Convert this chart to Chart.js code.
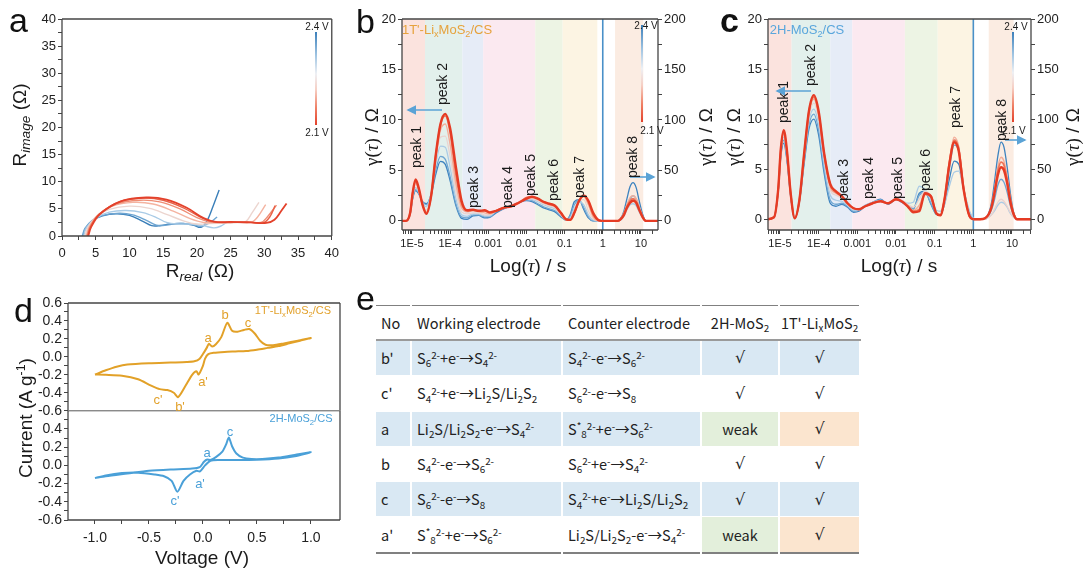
<!DOCTYPE html>
<html><head><meta charset="utf-8">
<script src="https://cdn.jsdelivr.net/npm/chart.js@4.4.0/dist/chart.umd.min.js"></script>
<style>
body{margin:0;width:1083px;height:569px;background:#fff;position:relative;overflow:hidden;font-family:Arial,"Liberation Sans",sans-serif;}
canvas{position:absolute;}
.t{position:absolute;white-space:nowrap;color:#1a1a1a;line-height:1;}
.lt{position:absolute;font-size:34px;line-height:34px;color:#111;font-family:Arial,"Liberation Sans",sans-serif;}
.cb{position:absolute;width:2px;background:linear-gradient(to bottom,#3b7fba 0%,#9fc4e2 25%,#eef0f4 45%,#f6cfc4 62%,#ef7e63 82%,#e3412b 100%);}
#tbl{position:absolute;left:376px;top:305px;width:484px;border-collapse:collapse;font-family:"Noto Sans CJK SC","Noto Sans",sans-serif;font-size:14.5px;color:#222;table-layout:fixed;border-top:1.5px solid #808080;border-bottom:2px solid #808080;}
#tbl td{padding:0 0 0 5px;height:34.3px;border-right:2px solid #fff;border-bottom:1px solid #fff;white-space:nowrap;line-height:1.1;}
#tbl tr.hd td{height:33px;border-bottom:2.5px solid #9a9a9a;}
#tbl td.c{text-align:center;padding:0;}
#tbl td.ck{font-family:"DejaVu Sans",Arial,sans-serif;font-size:16px;}
#tbl tr.bl td{background:#d9e8f3;}
#tbl td.gw{background:#e3efdb !important;}
#tbl td.pw{background:#fbe5cf !important;}
#tbl sub,#tbl sup{font-size:0.68em;line-height:0;position:relative;vertical-align:baseline;}
#tbl sub{top:0.32em;}
#tbl sup{top:-0.5em;}
.ax sub{font-size:0.72em;font-style:italic;vertical-align:baseline;position:relative;top:0.3em;}
.ser{font-family:"Liberation Serif","DejaVu Serif",serif;}
</style></head>
<body>
<canvas id="cA" width="345" height="290" style="left:0;top:0"></canvas>
<canvas id="cB" width="360" height="290" style="left:360px;top:0"></canvas>
<canvas id="cC" width="363" height="290" style="left:720px;top:0"></canvas>
<canvas id="cD1" width="350" height="135" style="left:0;top:290px"></canvas>
<canvas id="cD2" width="350" height="169" style="left:0;top:400px"></canvas>
<table id="tbl"></table>
<svg id="arr" width="1083" height="569" style="position:absolute;left:0;top:0;pointer-events:none">
<defs><marker id="ah" markerWidth="6" markerHeight="6" refX="5" refY="3" orient="auto"><path d="M0,0 L6,3 L0,6 z" fill="#5ba3d6"/></marker></defs>
<line x1="442" y1="110" x2="408" y2="110" stroke="#5ba3d6" stroke-width="1.6" marker-end="url(#ah)"/>
<line x1="630" y1="177" x2="654" y2="177" stroke="#5ba3d6" stroke-width="1.6" marker-end="url(#ah)"/>
<line x1="811" y1="91" x2="777" y2="91" stroke="#5ba3d6" stroke-width="1.6" marker-end="url(#ah)"/>
<line x1="1005" y1="140" x2="1025" y2="140" stroke="#5ba3d6" stroke-width="1.6" marker-end="url(#ah)"/>
</svg>
<script>
// ---------------- DATA ----------------
// Panel a: Nyquist plots, 2.4 V (blue) -> 2.1 V (red)
const aReal = [
  [3.1,3.5,4.5,6,8,10,12,13.3,14.5,16,18,19.5,20.6,21.5,22.4,23.3],
  [3.0,3.4,4.5,6,8.5,10.5,12.5,14,15.5,17,19,20.5,21.5,22.3,23],
  [3.2,3.6,5,7,9.5,12,14,15.5,17,19,21,22.5,23.5,24.5],
  [3.4,3.8,5,7,10,13,15.5,18,20,22,24,26,27.2,28.2,29.2],
  [3.6,4,5.2,7.5,10.5,13.5,16.5,19,21,23,25.5,28,29,30.2],
  [3.7,4.1,5.4,8,11.5,14.5,17.5,20,22,24,26.5,29.5,30.5,31.8],
  [3.8,4.2,5.5,8.5,12,15,18,20.5,22.5,25,27.5,29.8,30.8,31.6],
  [3.9,4.3,5.6,8.7,12.5,15.5,18.5,21,22.8,25,28,30.3,31.5,32.5,33.3]
];
const aImag = [
  [0,1.4,2.8,3.7,4.1,3.8,2.7,1.9,1.9,2.2,2.3,2.0,1.6,2.8,5.5,8.5],
  [0,1.4,2.9,3.8,4.2,3.9,2.9,2.0,2.0,2.3,2.2,1.8,2.2,2.8,3.5],
  [0,1.5,3.3,4.4,4.7,4.3,3.4,2.5,2.2,2.2,1.9,1.5,1.8,2.6],
  [0,1.5,3.5,4.9,5.5,5.1,4.0,2.8,2.2,2.3,2.4,2.5,2.6,4.3,6.2],
  [0,1.6,3.7,5.5,6.2,5.9,4.6,3.2,2.5,2.5,2.6,2.5,3.5,5.8],
  [0,1.6,3.9,5.9,6.6,6.3,5.0,3.4,2.6,2.5,2.6,2.5,3.6,5.7],
  [0,1.6,4.0,6.3,7.0,6.6,5.2,3.5,2.6,2.5,2.6,2.4,3.5,5.6],
  [0,1.6,4.0,6.4,7.1,6.7,5.2,3.3,2.6,2.6,2.5,2.4,3.0,4.6,6.0]
];
const aTicks = [0,5,10,15,20,25,30,35,40];

// Panels b, c: DRT curves gamma(tau)
const tauLeft = [4.5e-6,7e-6,9e-6,1.05e-5,1.25e-5,1.5e-5,1.9e-5,2.4e-5,3.2e-5,4.2e-5,5.6e-5,7.5e-5,1e-4,1.4e-4,2e-4,2.8e-4,4e-4,5.6e-4,8e-4,1.1e-3,1.6e-3,2.5e-3,4e-3,6.3e-3,1e-2,1.4e-2,2e-2,2.8e-2,4e-2,5.6e-2,8e-2,0.11,0.14,0.18,0.24,0.32,0.42,0.56,0.8,1.0];
const tauRight = [1,1.5,2,2.5,3,3.6,4.3,5.2,6.2,7.5,9,11,13.5,17,32];
const bLeft = [
  [0,0,0.7,2.2,3.0,2.7,1.9,1.7,2.6,4.6,5.9,5.6,4.0,1.6,0.25,0.15,0.5,0.55,0.3,0.35,0.8,1.2,1.5,1.8,2.0,1.9,1.6,1.3,1.1,0.9,0.4,0.05,0.6,1.9,2.1,1.1,0.3,0,0,0],
  [0,0,0.7,2.3,3.1,2.8,1.9,1.6,2.7,5.0,6.4,6.1,4.4,1.8,0.4,0.3,0.6,0.6,0.4,0.4,0.9,1.2,1.5,1.8,2.1,2.0,1.7,1.4,1.2,1.0,0.5,0.1,0.5,1.6,2.0,1.3,0.4,0,0,0],
  [0,0,0.7,2.4,3.3,2.9,1.8,1.4,2.8,5.6,7.4,7.3,5.3,2.3,0.6,0.45,0.7,0.7,0.5,0.5,1.0,1.3,1.5,1.8,2.1,2.1,1.9,1.6,1.4,1.2,0.6,0.1,0.3,1.2,1.9,1.6,0.6,0.1,0,0],
  [0,0,0.7,2.6,3.6,3.0,1.6,1.1,2.7,6.0,8.3,8.4,6.4,3.0,0.9,0.7,0.8,0.8,0.6,0.6,1.0,1.3,1.5,1.9,2.2,2.2,2.0,1.7,1.5,1.3,0.6,0.1,0.2,1.0,2.0,2.1,1.0,0.2,0,0],
  [0,0,0.8,2.7,3.8,3.1,1.6,0.9,2.6,6.2,9.0,9.6,7.6,3.8,1.3,0.9,1.0,0.9,0.8,0.7,1.0,1.3,1.4,1.8,2.2,2.3,2.1,1.8,1.6,1.4,0.7,0.1,0.1,0.8,2.0,2.4,1.6,0.4,0,0],
  [0,0,0.8,2.8,4.0,3.2,1.6,0.8,2.5,6.4,9.5,10.4,8.8,4.8,1.7,1.0,1.1,1.0,1.0,0.8,1.0,1.3,1.5,1.8,2.3,2.4,2.2,1.9,1.7,1.5,0.8,0.15,0.1,0.8,2.0,2.5,1.9,0.6,0.05,0],
  [0,0,0.8,2.8,4.1,3.3,1.6,0.7,2.5,6.5,9.6,10.6,9.2,5.5,2.0,1.05,1.1,1.0,1.05,0.85,1.0,1.3,1.45,1.8,2.2,2.4,2.2,1.9,1.7,1.5,0.8,0.15,0.1,0.8,2.0,2.5,2.0,0.8,0.05,0]
];
const bRight = [
  [0,0,0,0,3,10,22,34,38,33,20,7,0,0,0],
  [0,0,0,0,2,7,15,22,25,22,14,5,0,0,0],
  [0,0,0,0,1,5,11,16,17,15,9,3,0,0,0],
  [0,0,0,0,2,6,14,20,22,19,12,4,0,0,0],
  [0,0,0,0,2,8,16,23,25,22,14,5,0,0,0],
  [0,0,0,0,2,7,14,20,22,19,12,4,0,0,0],
  [0,0,0,0,2,6,13,18,20,18,11,4,0,0,0]
];
const cLeft = [
  [0,0.2,2.8,6.2,7.6,6.0,2.2,0.1,1.8,5.5,9.0,10.0,8.4,4.5,1.6,1.3,1.5,1.2,0.7,0.8,1.3,1.7,2.0,1.5,2.0,1.7,1.3,1.0,2.6,2.8,1.5,0.5,0.4,1.5,4.0,5.8,5.5,3.0,0.6,0],
  [0,0.2,2.8,6.4,7.9,6.2,2.3,0.1,1.9,5.8,9.4,10.5,8.9,4.9,1.9,1.5,1.6,1.3,0.8,0.9,1.4,1.7,1.9,1.5,2.0,1.8,1.4,1.1,2.4,2.7,1.6,0.5,0.4,1.8,5.0,7.4,6.8,3.2,0.5,0],
  [0,0.2,2.9,6.6,8.2,6.4,2.4,0.1,1.9,6.0,9.8,11.0,9.5,5.4,2.4,1.9,1.8,1.4,0.9,0.9,1.4,1.7,1.9,1.6,2.1,1.9,1.6,1.7,3.3,3.0,1.9,0.9,0.8,1.5,3.3,4.7,4.8,3.0,0.8,0.1],
  [0,0.2,2.9,6.7,8.5,6.6,2.4,0.1,2.0,6.2,10.2,11.6,10.0,6.0,2.9,2.4,2.1,1.5,1.0,1.0,1.3,1.6,1.8,1.6,2.0,1.9,1.5,1.2,2.0,2.8,2.2,0.7,0.5,2.0,5.6,8.0,7.3,3.3,0.4,0],
  [0,0.2,3.0,6.8,8.7,6.8,2.5,0.1,2.0,6.3,10.5,12.0,10.4,6.3,3.2,2.6,2.2,1.6,1.1,1.0,1.3,1.6,1.8,1.6,2.0,1.8,1.4,0.9,1.4,2.6,2.2,0.6,0.4,2.1,5.8,8.2,7.2,3.2,0.3,0],
  [0,0.2,3.0,6.9,8.8,6.9,2.5,0.1,2.0,6.4,10.7,12.2,10.6,6.4,3.4,2.7,2.3,1.6,1.1,1.0,1.3,1.6,1.8,1.6,2.0,1.8,1.3,0.8,1.0,2.5,2.3,0.6,0.4,2.0,5.6,7.9,7.0,3.1,0.3,0],
  [0,0.2,3.0,7.0,8.9,7.0,2.5,0.1,2.0,6.5,10.8,12.4,10.8,6.5,3.5,2.8,2.3,1.6,1.1,1.0,1.3,1.6,1.8,1.6,2.0,1.8,1.3,0.7,0.8,2.6,2.3,0.6,0.4,2.0,5.5,7.7,6.8,3.0,0.3,0]
];
const cRight = [
  [0,0,1,6,18,40,63,77,72,52,27,7,0,0,0],
  [0,0,1,4,10,21,34,40,37,27,14,4,0,0,0],
  [0,0,0,2,5,9,14,17,16,12,6,2,0,0,0],
  [0,0,0,2,5,11,17,20,18,13,7,2,0,0,0],
  [0,0,1,5,14,32,52,62,58,42,22,6,0,0,0],
  [0,0,1,5,13,30,48,57,54,39,20,6,0,0,0],
  [0,0,1,5,13,28,44,52,49,36,18,5,0,0,0]
];
const tauTickValues = [1e-5,1e-4,1e-3,1e-2,0.1,1,10];
const tauTickLabels = ['1E-5','1E-4','0.001','0.01','0.1','1','10'];
const gammaTicks = [0,5,10,15,20];
const gammaRightTicks = [0,50,100,150,200];
const peakNames = ['peak 1','peak 2','peak 3','peak 4','peak 5','peak 6','peak 7','peak 8'];
// relaxation-time bands [start, end]
const bandsB = [[4e-6,2.2e-5],[2.2e-5,2.1e-4],[2.1e-4,7.4e-4],[7.4e-4,1.7e-2],[1.7e-2,8.9e-2],[8.9e-2,0.72],[2.1,11.5]];
const bandsC = [[4e-6,2.0e-5],[2.0e-5,2.0e-4],[2.0e-4,7.4e-4],[7.4e-4,1.7e-2],[1.7e-2,0.12],[0.12,1.0],[2.5,11]];

// Panel d: CV loops
const cvTopV = [-1.0,-0.9,-0.8,-0.7,-0.5,-0.3,-0.15,-0.08,-0.03,0.01,0.035,0.056,0.085,0.12,0.17,0.226,0.27,0.32,0.38,0.43,0.48,0.53,0.58,0.65,0.75,0.88,1.0,
                0.9,0.8,0.7,0.6,0.5,0.4,0.3,0.2,0.1,0.05,0.02,0.0,-0.04,-0.06,-0.1,-0.16,-0.23,-0.27,-0.33,-0.4,-0.48,-0.6,-0.75,-0.9,-1.0];
const cvTopI = [-0.197,-0.15,-0.11,-0.085,-0.07,-0.063,-0.058,-0.05,-0.02,0.05,0.1,0.145,0.115,0.14,0.22,0.38,0.29,0.28,0.30,0.31,0.26,0.18,0.135,0.13,0.15,0.18,0.21,
                0.18,0.15,0.12,0.1,0.08,0.065,0.06,0.055,0.045,0.03,-0.02,-0.1,-0.197,-0.16,-0.2,-0.32,-0.45,-0.40,-0.37,-0.36,-0.32,-0.25,-0.21,-0.2,-0.197];
const cvBotV = [-1.0,-0.9,-0.7,-0.5,-0.3,-0.1,-0.03,0.01,0.04,0.07,0.12,0.18,0.215,0.24,0.27,0.31,0.37,0.45,0.55,0.7,0.85,1.0,
                0.85,0.7,0.5,0.3,0.15,0.07,0.02,-0.028,-0.06,-0.12,-0.18,-0.237,-0.29,-0.36,-0.45,-0.6,-0.75,-0.9,-1.0];
const cvBotI = [-0.14,-0.12,-0.09,-0.06,-0.045,-0.035,-0.02,0.04,0.064,0.06,0.09,0.15,0.23,0.305,0.21,0.13,0.085,0.07,0.07,0.085,0.115,0.145,
                0.1,0.075,0.062,0.058,0.058,0.05,0.0,-0.067,-0.06,-0.1,-0.17,-0.29,-0.17,-0.12,-0.1,-0.08,-0.085,-0.11,-0.14];
const cvTopTicks = [0.6,0.4,0.2,0,-0.2,-0.4,-0.6];
const cvBotTicks = [0.4,0.2,0,-0.2,-0.4,-0.6];
const voltTicks = [-1.0,-0.5,0,0.5,1.0];

// Panel e: table
const tblHeader = ['No','Working electrode','Counter electrode','2H-MoS<sub>2</sub>',"1T'-Li<sub>x</sub>MoS<sub>2</sub>"];
const tblNo = ["b'","c'",'a','b','c',"a'"];
const tblWorking = [
  'S<sub>6</sub><sup>2-</sup>+e<sup>-</sup>→S<sub>4</sub><sup>2-</sup>',
  'S<sub>4</sub><sup>2-</sup>+e<sup>-</sup>→Li<sub>2</sub>S/Li<sub>2</sub>S<sub>2</sub>',
  'Li<sub>2</sub>S/Li<sub>2</sub>S<sub>2</sub>-e<sup>-</sup>→S<sub>4</sub><sup>2-</sup>',
  'S<sub>4</sub><sup>2-</sup>-e<sup>-</sup>→S<sub>6</sub><sup>2-</sup>',
  'S<sub>6</sub><sup>2-</sup>-e<sup>-</sup>→S<sub>8</sub>',
  'S<sup>*</sup><sub>8</sub><sup>2-</sup>+e<sup>-</sup>→S<sub>6</sub><sup>2-</sup>'
];
const tblCounter = [
  'S<sub>4</sub><sup>2-</sup>-e<sup>-</sup>→S<sub>6</sub><sup>2-</sup>',
  'S<sub>6</sub><sup>2-</sup>-e<sup>-</sup>→S<sub>8</sub>',
  'S<sup>*</sup><sub>8</sub><sup>2-</sup>+e<sup>-</sup>→S<sub>6</sub><sup>2-</sup>',
  'S<sub>6</sub><sup>2-</sup>+e<sup>-</sup>→S<sub>4</sub><sup>2-</sup>',
  'S<sub>4</sub><sup>2-</sup>+e<sup>-</sup>→Li<sub>2</sub>S/Li<sub>2</sub>S<sub>2</sub>',
  'Li<sub>2</sub>S/Li<sub>2</sub>S<sub>2</sub>-e<sup>-</sup>→S<sub>4</sub><sup>2-</sup>'
];
const tbl2H = ['√','√','weak','√','√','weak'];
const tbl1T = ['√','√','√','√','√','√'];

// ---------------- STYLE ----------------
const drtColors = ['#3d83bf','#6fa6d2','#abcbe5','#e9d3cf','#f4ad98','#ee7458','#e53b24'];
const drtWidths = [1.3,1.3,1.3,1.3,1.4,1.8,2.4];
const nyqColors = ['#3a7fb9','#6da5d2','#a9cbe6','#ecd5cf','#f4b3a0','#ef8d74','#e8634a','#e3412b'];
const bandColors = ['#fbe3de','#e3f0ec','#e6ecf7','#fbe9f0','#edf4e4','#fcf4e3','#fbece2'];
const FONT = 'Arial, "Liberation Sans", sans-serif';
Chart.defaults.font.family = FONT;
Chart.defaults.color = '#222';
Chart.defaults.animation = false;

const near = (a,b) => Math.abs(a-b) <= 1e-9*Math.max(1,Math.abs(a),Math.abs(b))*10;

function midpoints(arr){ const s=[...arr].sort((a,b)=>a-b); const m=[]; for(let i=0;i<s.length-1;i++) m.push((s[i]+s[i+1])/2); return m; }

function linScale(min,max,majors,fmt,fontSize,extra){
  const minors = midpoints(majors);
  const all = majors.concat(minors).filter(v=>v>=min-1e-9&&v<=max+1e-9).sort((a,b)=>a-b);
  return Object.assign({
    type:'linear', min, max, bounds:'data',
    afterBuildTicks: s => { s.ticks = all.map(v=>({value:v})); },
    ticks:{autoSkip:false, maxRotation:0, minRotation:0, padding:2, font:{size:fontSize}, color:'#222',
      callback: v => majors.some(m=>near(m,v)) ? fmt(v) : ''},
    grid:{drawOnChartArea:false, drawTicks:true, tickLength:4, tickColor:'#444', lineWidth:1},
    border:{display:false}
  }, extra||{});
}
function logScale(min,max,heightFix){
  const all = [];
  for (let e=-6;e<=1;e++){ for(let k=1;k<=9;k++){ const v=k*Math.pow(10,e); if(v>=min&&v<=max) all.push(k===1?tauTickValues.find(t=>near(t,v))??v:v);} }
  return {
    type:'logarithmic', min, max, bounds:'data',
    afterBuildTicks: s => { s.ticks = all.map(v=>({value:v})); },
    afterFit: s => { s.height = heightFix; },
    ticks:{autoSkip:false, maxRotation:0, minRotation:0, padding:3, font:{size:11}, color:'#222',
      callback: v => { const i = tauTickValues.findIndex(t=>near(t,v)); return i>=0 ? tauTickLabels[i] : ''; }},
    grid:{drawOnChartArea:false, drawTicks:true, tickLength:4, tickColor:'#444', lineWidth:1},
    border:{display:false}
  };
}

const framePlugin = {
  id:'frame',
  afterDatasetsDraw(chart, args, opts){
    const {ctx, chartArea:a} = chart;
    ctx.save();
    ctx.lineWidth = opts.width || 1.3;
    const sides = opts.sides || 'trbl';
    const seg = (s,x1,y1,x2,y2,col) => { if(!sides.includes(s)) return; ctx.strokeStyle = col; ctx.beginPath(); ctx.moveTo(x1,y1); ctx.lineTo(x2,y2); ctx.stroke(); };
    const c = opts.color || '#444';
    seg('t',a.left,a.top,a.right,a.top, opts.topColor || c);
    seg('b',a.left,a.bottom,a.right,a.bottom, opts.bottomColor || c);
    seg('l',a.left,a.top,a.left,a.bottom,c);
    seg('r',a.right,a.top,a.right,a.bottom,c);
    ctx.restore();
  }
};
const bandPlugin = {
  id:'bands',
  beforeDatasetsDraw(chart, args, opts){
    if(!opts.bands) return;
    const {ctx, chartArea:a} = chart; const xs = chart.scales.x;
    ctx.save(); ctx.beginPath(); ctx.rect(a.left,a.top,a.right-a.left,a.bottom-a.top); ctx.clip();
    opts.bands.forEach((b,i)=>{
      const x1 = xs.getPixelForValue(b[0]), x2 = xs.getPixelForValue(b[1]);
      ctx.fillStyle = bandColors[i]; ctx.fillRect(x1,a.top,x2-x1,a.bottom-a.top);
    });
    if (opts.vline!=null){
      const xv = xs.getPixelForValue(opts.vline);
      ctx.strokeStyle='#4a90c8'; ctx.lineWidth=1.6; ctx.beginPath(); ctx.moveTo(xv,a.top); ctx.lineTo(xv,a.bottom); ctx.stroke();
    }
    ctx.restore();
  }
};

const commonOpts = {responsive:false, animation:false, devicePixelRatio:1,
  plugins:{legend:{display:false}, tooltip:{enabled:false}}};

// ---------------- PANEL A ----------------
new Chart(document.getElementById('cA'), {
  type:'scatter',
  data:{datasets: aReal.map((xs,i)=>({
    data: xs.map((x,j)=>({x, y:aImag[i][j]})), showLine:true, pointRadius:0,
    borderColor:nyqColors[i], borderWidth: i===7?1.8:1.4, tension:0.35, order: aReal.length-i
  }))},
  options: Object.assign({}, commonOpts, {
    layout:{padding:{top:19,right:10,left:0,bottom:0}},
    plugins:{legend:{display:false}, tooltip:{enabled:false}, frame:{color:'#444'}},
    scales:{
      x: linScale(0,40,aTicks,v=>String(v),13,{afterFit:s=>{s.height=54;}, ticks:{autoSkip:false,maxRotation:0,minRotation:0,padding:6,font:{size:13},color:'#222',callback:v=>aTicks.some(m=>near(m,v))?String(v):''}}),
      y: linScale(0,40,aTicks,v=>String(v),13,{afterFit:s=>{s.width=62;}})
    }
  }),
  plugins:[framePlugin]
});

// ---------------- PANELS B, C ----------------
function drtChart(id, left, right, bands, xmin, xmax, ymin, yW, y2W){
  const ds = [];
  left.forEach((ys,i)=>{
    ds.push({data: tauLeft.map((t,j)=>({x:t,y:ys[j]})), borderColor:drtColors[i], borderWidth:drtWidths[i],
      pointRadius:0, cubicInterpolationMode:'monotone', fill:false, yAxisID:'y', order: left.length-i});
    ds.push({data: tauRight.map((t,j)=>({x:t,y:right[i][j]})), borderColor:drtColors[i], borderWidth:drtWidths[i],
      pointRadius:0, cubicInterpolationMode:'monotone', fill:false, yAxisID:'y2', order: left.length-i});
  });
  return new Chart(document.getElementById(id), {
    type:'line',
    data:{datasets:ds},
    options: Object.assign({}, commonOpts, {
      parsing:true,
      layout:{padding:{top:19,right:0,left:0,bottom:0}},
      plugins:{legend:{display:false}, tooltip:{enabled:false}, frame:{color:'#444'}, bands:{bands, vline:1}},
      scales:{
        x: logScale(xmin,xmax,60),
        y: linScale(ymin,20,gammaTicks,v=>String(v),13,{position:'left', afterFit:s=>{s.width=yW;}}),
        y2: linScale(ymin*10,200,gammaRightTicks,v=>String(v),13,{position:'right', afterFit:s=>{s.width=y2W;}})
      }
    }),
    plugins:[bandPlugin, framePlugin]
  });
}
drtChart('cB', bLeft, bRight, bandsB, 5.5e-6, 28, -0.9, 42, 62);
drtChart('cC', cLeft, cRight, bandsC, 4.9e-6, 31, -1.07, 48, 52);

// ---------------- PANEL D ----------------
const fmt1 = v => (Math.abs(v)<1e-9 ? '0.0' : v.toFixed(1));
new Chart(document.getElementById('cD1'), {
  type:'scatter',
  data:{datasets:[{data: cvTopV.map((v,i)=>({x:v,y:cvTopI[i]})), showLine:true, pointRadius:0, borderColor:'#e2a128', borderWidth:2, tension:0.25}]},
  options: Object.assign({}, commonOpts, {
    layout:{padding:{top:13,right:10,left:0,bottom:14.3}},
    plugins:{legend:{display:false}, tooltip:{enabled:false}, frame:{color:'#444', bottomColor:'#8a8a8a'}},
    scales:{
      x:{type:'linear', min:-1.25, max:1.27, display:false},
      y: linScale(-0.6,0.6,cvTopTicks,fmt1,14,{afterFit:s=>{s.width=68;}})
    }
  }),
  plugins:[framePlugin]
});
new Chart(document.getElementById('cD2'), {
  type:'scatter',
  data:{datasets:[{data: cvBotV.map((v,i)=>({x:v,y:cvBotI[i]})), showLine:true, pointRadius:0, borderColor:'#4aa0d8', borderWidth:2, tension:0.25}]},
  options: Object.assign({}, commonOpts, {
    layout:{padding:{top:10.7,right:10,left:0,bottom:0}},
    plugins:{legend:{display:false}, tooltip:{enabled:false}, frame:{color:'#444', topColor:'#8a8a8a'}},
    scales:{
      x: linScale(-1.25,1.27,voltTicks,fmt1,14,{afterFit:s=>{s.height=49;}, ticks:{autoSkip:false,maxRotation:0,minRotation:0,padding:6,font:{size:14},color:'#222',callback:v=>voltTicks.some(m=>near(m,v))?fmt1(v):''}}),
      y: linScale(-0.6,0.6,cvBotTicks.concat([0.6]),fmt1,14,{afterFit:s=>{s.width=68;}, ticks:{autoSkip:false,maxRotation:0,minRotation:0,padding:2,font:{size:14},color:'#222',callback:v=>cvBotTicks.some(m=>near(m,v))?fmt1(v):''}})
    }
  }),
  plugins:[framePlugin]
});

// ---------------- TABLE ----------------
(function(){
  const t = document.getElementById('tbl');
  const widths = [35,151,139,78,81];
  let h = '<colgroup>' + widths.map(w=>`<col style="width:${w}px">`).join('') + '</colgroup>';
  h += '<tr class="hd">' + tblHeader.map((c,i)=>`<td${i>=3?' class="c"':''}>${c}</td>`).join('') + '</tr>';
  tblNo.forEach((n,i)=>{
    const blue = (i%2===0);
    const weak = tbl2H[i]==='weak';
    h += `<tr${blue?' class="bl"':''}><td>${n}</td><td>${tblWorking[i]}</td><td>${tblCounter[i]}</td>`+
         `<td class="c${weak?' gw':' ck'}">${tbl2H[i]}</td><td class="c ck${weak?' pw':''}">${tbl1T[i]}</td></tr>`;
  });
  t.innerHTML = h;
})();

// ---------------- TEXT ----------------
function txt(html,x,y,opt){
  opt = opt||{};
  const d = document.createElement('div'); d.className='t'+(opt.cls?' '+opt.cls:'');
  d.innerHTML = html;
  d.style.left = x+'px'; d.style.top = y+'px';
  d.style.fontSize = (opt.size||13)+'px';
  if(opt.color) d.style.color = opt.color;
  d.style.transform = 'translate(-50%,-50%)' + (opt.rot?' rotate(-90deg)':'');
  document.body.appendChild(d);
}
function letter(ch,x,y,bold){ const d=document.createElement('div'); d.className='lt'; d.textContent=ch; d.style.left=x+'px'; d.style.top=y+'px'; if(bold) d.style.fontWeight='bold'; document.body.appendChild(d); }
letter('a',9,3); letter('b',356,4); letter('c',720,3,true); letter('d',14,293); letter('e',356,281);

// axis titles
txt('R<sub>image</sub> (Ω)',19,125,{size:19,rot:true,cls:'ax'});
txt('R<sub>real</sub> (Ω)',200,270,{size:19,cls:'ax'});
const gT = '<span class="ser">γ(<i>τ</i>)</span> / Ω';
const lT = 'Log(<span class="ser"><i>τ</i></span>) / s';
txt(gT,371,137,{size:19,rot:true}); txt(gT,705,137,{size:19,rot:true}); txt(lT,528,265,{size:19});
txt(gT,733,137,{size:19,rot:true}); txt(gT,1072,137,{size:19,rot:true}); txt(lT,899,265,{size:19});
txt('Current (A g<sup style="font-size:0.65em">-1</sup>)',25,418,{size:19,rot:true});
txt('Voltage (V)',202,557,{size:19});

// sample labels
txt("1T'-Li<sub style='font-size:0.7em'>x</sub>MoS<sub style='font-size:0.7em'>2</sub>/CS",447,31,{size:13,color:'#e6a23c'});
txt("2H-MoS<sub style='font-size:0.7em'>2</sub>/CS",807,31,{size:13,color:'#5aa6dc'});
txt("1T'-Li<sub style='font-size:0.7em'>x</sub>MoS<sub style='font-size:0.7em'>2</sub>/CS",293,312,{size:11,color:'#e2a12b'});
txt("2H-MoS<sub style='font-size:0.7em'>2</sub>/CS",301,420,{size:11,color:'#4aa0d8'});

// colour bars
function cbar(x,y,h){ const d=document.createElement('div'); d.className='cb'; d.style.left=x+'px'; d.style.top=y+'px'; d.style.height=h+'px'; document.body.appendChild(d); }
cbar(315,32,93); txt('2.4 V',317,27,{size:10}); txt('2.1 V',317,133,{size:10});
cbar(641,25,97); txt('2.4 V',646,26,{size:10}); txt('2.1 V',652,131,{size:10});
cbar(1012,32,90); txt('2.4 V',1016,27,{size:10}); txt('2.1 V',1014,131,{size:10});

// peak labels (rotated)
const peakPosB = [[416,147],[442,84],[473,187],[507,187],[530,175],[553,180],[579,177],[632,157]];
const peakPosC = [[783,102],[810,65],[843,180],[868,178],[897,178],[925,170],[955,107],[1001,120]];
peakNames.forEach((p,i)=>{ txt(p,peakPosB[i][0],peakPosB[i][1],{size:14,rot:true}); txt(p,peakPosC[i][0],peakPosC[i][1],{size:14,rot:true}); });

// CV peak labels
const O='#e2a12b', B='#4aa0d8';
[['a',208,337,O],['b',225,314,O],['c',248,322,O],["a'",203,381,O],["c'",158,399,O],["b'",180,406,O],
 ['c',230,431,B],['a',207,452,B],["a'",200,483,B],["c'",175,500,B]].forEach(l=>txt(l[0],l[1],l[2],{size:13,color:l[3]}));
</script>
</body></html>
